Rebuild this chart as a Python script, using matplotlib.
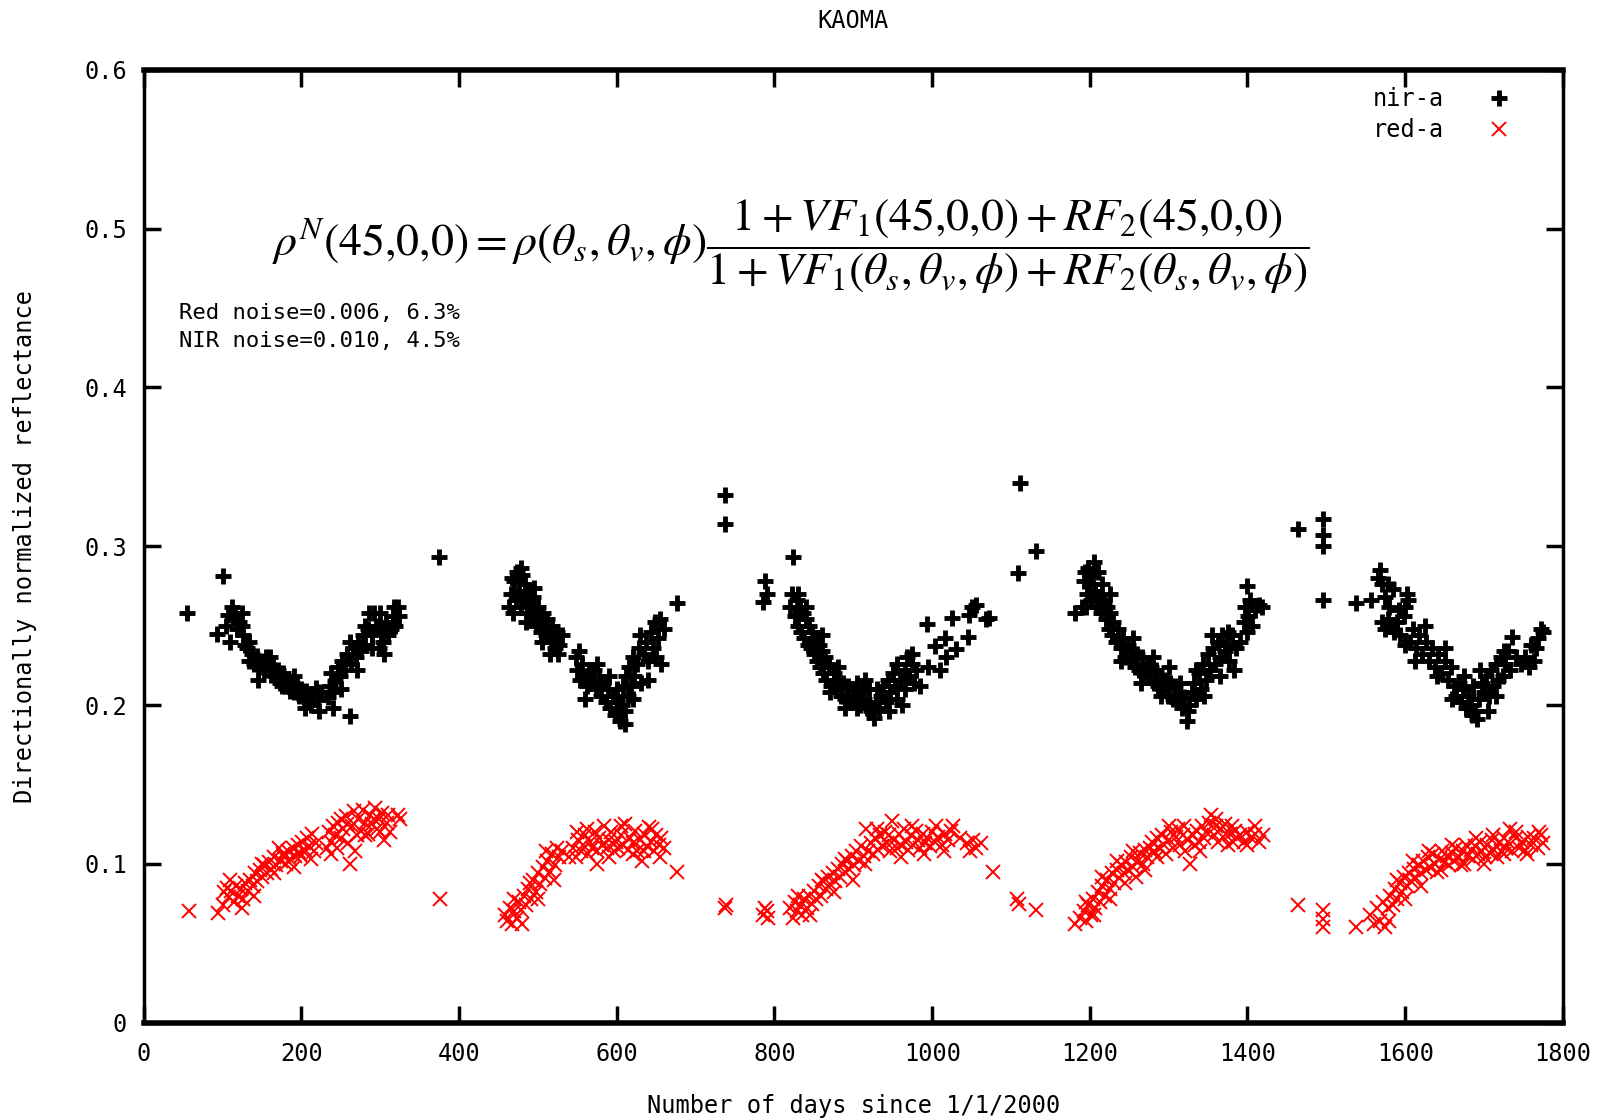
import numpy as np
import matplotlib
matplotlib.use("Agg")
import matplotlib.pyplot as plt

plt.rcParams['mathtext.fontset'] = 'stix'

# ---- data: (day since 1/1/2000, reflectance) ----
nir_2000 = [
    (55, .258), (93, .245), (100, .281), (104, .250), (107, .257), (110, .240), (113, .255),
    (116, .258), (118, .248), (121, .252), (124, .258), (126, .244), (128, .238), (131, .236),
    (134, .228), (137, .232), (140, .226), (143, .231), (146, .224), (149, .228), (152, .222),
    (155, .230), (158, .226), (161, .219), (164, .224), (167, .218), (170, .222), (173, .214),
    (176, .220), (179, .212), (182, .216), (185, .209), (188, .214), (191, .208), (194, .212),
    (197, .206), (200, .210), (203, .204), (206, .209), (209, .203), (212, .200), (215, .207),
    (218, .211), (221, .203), (224, .208), (234, .205), (236, .212), (238, .220), (240, .208),
    (243, .215), (246, .224), (249, .218), (252, .228), (255, .222), (258, .232), (261, .193),
    (263, .226), (266, .236), (269, .230), (272, .240), (275, .234), (278, .244), (281, .238),
    (284, .248), (286, .258), (289, .244), (292, .258), (295, .250), (298, .236), (301, .246),
    (304, .240), (307, .252), (310, .244), (313, .248), (316, .256), (319, .250), (322, .262),
    (324, .256), (375, .293),
    (112, .262), (125, .250), (133, .240), (145, .216), (160, .230), (175, .212), (190, .218),
    (205, .198), (222, .196), (240, .198), (250, .210), (262, .240), (270, .222), (280, .250),
    (290, .236), (300, .258), (318, .262), (305, .232),
]
red_2000 = [
    (58, .070), (94, .069), (100, .074), (102, .082), (105, .085), (108, .079), (111, .083),
    (114, .076), (117, .086), (120, .080), (123, .084), (126, .078), (129, .088), (132, .083),
    (135, .090), (138, .086), (141, .094), (144, .089), (147, .096), (150, .092), (153, .099),
    (156, .094), (159, .101), (162, .097), (165, .104), (168, .099), (171, .110), (174, .102),
    (177, .106), (180, .100), (183, .108), (186, .103), (189, .110), (192, .105), (195, .112),
    (198, .107), (201, .114), (204, .109), (207, .116), (210, .111), (213, .119), (216, .108),
    (219, .113), (233, .110), (235, .120), (237, .114), (240, .124), (242, .118), (245, .110),
    (247, .126), (250, .116), (253, .122), (256, .130), (259, .113), (262, .100), (264, .124),
    (267, .133), (270, .118), (272, .128), (275, .121), (278, .134), (281, .126), (284, .119),
    (287, .131), (290, .125), (293, .135), (296, .122), (299, .128), (302, .132), (305, .115),
    (308, .126), (312, .120), (322, .131), (325, .128), (376, .078),
    (110, .090), (125, .072), (140, .080), (150, .100), (165, .094), (178, .104), (190, .098),
    (200, .105), (212, .103), (238, .106), (250, .128), (258, .125), (268, .108), (280, .118),
    (292, .128), (300, .120), (310, .131),
]
nir_2001 = [
    (463, .262), (466, .270), (468, .258), (470, .278), (472, .266), (474, .284), (476, .272),
    (478, .262), (480, .282), (482, .268), (484, .276), (486, .258), (488, .270), (490, .264),
    (492, .254), (494, .268), (496, .260), (498, .250), (500, .262), (502, .256), (504, .246),
    (506, .258), (508, .250), (510, .244), (512, .254), (514, .246), (516, .240), (518, .250),
    (520, .242), (522, .236), (524, .246), (527, .238), (530, .244), (548, .230), (550, .222),
    (553, .216), (556, .226), (559, .218), (562, .212), (565, .220), (568, .214), (571, .222),
    (574, .210), (577, .216), (580, .206), (583, .214), (586, .202), (589, .210), (592, .198),
    (595, .206), (598, .194), (600, .202), (602, .196), (604, .190), (606, .200), (608, .212),
    (610, .196), (612, .218), (614, .206), (616, .224), (618, .212), (620, .230), (622, .218),
    (625, .226), (628, .236), (631, .214), (634, .232), (637, .240), (640, .228), (643, .246),
    (646, .236), (649, .252), (652, .242), (656, .226), (660, .248), (676, .264),
    (737, .332), (737, .314),
    (467, .280), (478, .286), (485, .252), (495, .274), (505, .240), (515, .232), (525, .232),
    (552, .234), (560, .204), (575, .226), (590, .218), (600, .210), (611, .188), (620, .204),
    (630, .244), (640, .216), (650, .230), (655, .254),
]
red_2001 = [
    (458, .068), (461, .064), (464, .072), (467, .062), (470, .070), (473, .066), (476, .076),
    (479, .071), (482, .080), (485, .074), (488, .084), (491, .078), (494, .090), (497, .082),
    (500, .094), (503, .087), (506, .098), (509, .091), (512, .102), (515, .095), (518, .106),
    (521, .099), (524, .110), (527, .104), (530, .108), (545, .110), (548, .104), (551, .115),
    (554, .108), (557, .112), (560, .118), (563, .106), (566, .114), (569, .110), (572, .120),
    (575, .108), (578, .116), (581, .112), (584, .124), (587, .110), (590, .115), (593, .120),
    (596, .108), (599, .114), (602, .110), (605, .118), (608, .112), (611, .125), (614, .109),
    (617, .116), (620, .113), (623, .121), (626, .108), (629, .115), (632, .102), (635, .119),
    (638, .111), (641, .123), (644, .114), (647, .108), (650, .118), (653, .112), (656, .116),
    (660, .110), (676, .095), (737, .072), (738, .074),
    (470, .078), (480, .062), (490, .088), (500, .078), (510, .108), (520, .090), (540, .104),
    (550, .120), (562, .122), (575, .100), (590, .104), (605, .124), (620, .106), (635, .108),
    (645, .122), (655, .104),
]
nir_2002 = [
    (786, .265), (788, .278), (790, .270), (820, .262), (822, .270), (824, .293), (826, .256),
    (828, .266), (830, .250), (832, .262), (834, .246), (836, .258), (838, .242), (840, .254),
    (842, .238), (844, .250), (846, .236), (848, .246), (850, .232), (852, .242), (854, .228),
    (856, .238), (858, .224), (860, .234), (862, .220), (864, .230), (866, .216), (869, .226),
    (872, .212), (875, .220), (878, .210), (881, .216), (884, .206), (887, .214), (890, .204),
    (893, .212), (896, .202), (899, .210), (902, .206), (905, .214), (908, .200), (911, .208),
    (914, .204), (917, .198), (920, .210), (923, .196), (926, .192), (929, .202), (932, .198),
    (935, .206), (938, .212), (941, .202), (944, .216), (947, .208), (950, .220), (953, .212),
    (956, .226), (959, .216), (962, .200), (965, .222), (968, .230), (971, .218), (974, .226),
    (977, .214), (980, .222), (993, .251), (1003, .237), (1016, .242), (1018, .230),
    (1025, .255), (1046, .243), (1047, .257), (1050, .262), (1056, .263), (1068, .254),
    (1072, .255), (1109, .283), (1112, .340), (1132, .297),
    (830, .270), (840, .262), (850, .240), (860, .244), (870, .208), (880, .224), (890, .198),
    (905, .198), (915, .216), (930, .210), (945, .196), (955, .204), (965, .210), (975, .232),
    (985, .212), (995, .224), (1010, .222), (1030, .235),
]
red_2002 = [
    (786, .068), (788, .072), (790, .070), (792, .066), (820, .072), (823, .066), (826, .076),
    (829, .070), (832, .074), (835, .068), (838, .078), (841, .072), (844, .080), (847, .075),
    (850, .083), (853, .078), (856, .086), (859, .080), (862, .089), (865, .084), (868, .092),
    (871, .087), (874, .094), (877, .089), (880, .097), (883, .092), (886, .100), (889, .095),
    (892, .102), (895, .097), (898, .105), (901, .099), (904, .108), (907, .102), (910, .111),
    (913, .105), (916, .122), (919, .108), (922, .113), (925, .106), (928, .116), (931, .109),
    (934, .118), (937, .111), (940, .120), (943, .113), (946, .108), (949, .127), (952, .115),
    (955, .110), (958, .119), (961, .112), (964, .122), (967, .114), (970, .109), (973, .118),
    (976, .112), (979, .121), (982, .115), (985, .110), (988, .119), (991, .113), (994, .116),
    (997, .111), (1000, .120), (1004, .114), (1008, .117), (1012, .112), (1016, .119),
    (1020, .115), (1024, .121), (1027, .124), (1044, .113), (1048, .108), (1052, .115),
    (1056, .110), (1062, .113), (1077, .095), (1108, .078), (1110, .075), (1132, .071),
    (830, .080), (845, .068), (860, .090), (875, .082), (890, .103), (900, .090), (915, .100),
    (930, .122), (945, .118), (960, .104), (975, .124), (990, .106), (1005, .124), (1015, .108),
    (1035, .116),
]
nir_2003 = [
    (1181, .258), (1190, .262), (1192, .278), (1194, .284), (1196, .270), (1198, .286),
    (1200, .276), (1202, .266), (1204, .282), (1206, .272), (1208, .262), (1210, .284),
    (1212, .268), (1214, .258), (1216, .276), (1218, .264), (1220, .254), (1222, .262),
    (1224, .248), (1226, .258), (1228, .244), (1230, .252), (1233, .240), (1236, .248),
    (1239, .236), (1242, .242), (1245, .230), (1248, .238), (1251, .228), (1254, .234),
    (1257, .224), (1260, .232), (1263, .222), (1266, .230), (1269, .220), (1272, .226),
    (1275, .218), (1278, .224), (1281, .214), (1284, .222), (1287, .212), (1290, .218),
    (1293, .210), (1296, .216), (1299, .206), (1302, .214), (1305, .204), (1308, .212),
    (1311, .202), (1314, .208), (1317, .198), (1320, .205), (1323, .190), (1326, .200),
    (1329, .208), (1332, .214), (1335, .204), (1338, .220), (1341, .210), (1344, .226),
    (1347, .216), (1350, .232), (1353, .222), (1356, .236), (1359, .226), (1362, .240),
    (1365, .230), (1368, .244), (1371, .234), (1374, .238), (1377, .228), (1380, .244),
    (1383, .222), (1386, .236), (1395, .252), (1397, .262), (1399, .275), (1401, .256),
    (1403, .266), (1406, .250), (1410, .260), (1414, .263), (1418, .262),
    (1464, .311), (1496, .317), (1496, .307), (1496, .300), (1496, .266),
    (1195, .262), (1205, .290), (1215, .266), (1225, .270), (1240, .228), (1255, .242),
    (1265, .214), (1280, .230), (1290, .206), (1300, .224), (1315, .214), (1325, .196),
    (1335, .222), (1345, .206), (1355, .244), (1365, .218), (1375, .246), (1390, .240),
    (1400, .246),
]
red_2003 = [
    (1181, .062), (1188, .066), (1192, .070), (1195, .064), (1198, .074), (1201, .068),
    (1204, .078), (1207, .072), (1210, .082), (1213, .076), (1216, .086), (1219, .080),
    (1222, .090), (1225, .084), (1228, .094), (1231, .088), (1234, .096), (1237, .091),
    (1240, .099), (1243, .094), (1246, .101), (1249, .096), (1252, .104), (1255, .098),
    (1258, .092), (1261, .102), (1264, .107), (1267, .100), (1270, .109), (1273, .104),
    (1276, .110), (1279, .114), (1282, .108), (1285, .116), (1288, .110), (1291, .118),
    (1294, .112), (1297, .106), (1300, .115), (1303, .120), (1306, .110), (1309, .117),
    (1312, .122), (1315, .112), (1318, .118), (1321, .108), (1324, .115), (1327, .100),
    (1330, .119), (1333, .112), (1336, .121), (1339, .114), (1342, .124), (1345, .116),
    (1348, .120), (1351, .126), (1354, .131), (1357, .118), (1360, .124), (1363, .114),
    (1366, .122), (1369, .117), (1372, .125), (1375, .112), (1378, .119), (1381, .114),
    (1384, .121), (1387, .116), (1390, .118), (1395, .114), (1400, .120), (1405, .116),
    (1410, .119), (1415, .114), (1420, .118),
    (1464, .074), (1496, .071), (1496, .065), (1496, .060),
    (1195, .076), (1205, .068), (1215, .092), (1225, .078), (1235, .102), (1245, .088),
    (1255, .108), (1270, .096), (1285, .104), (1300, .124), (1320, .124), (1340, .108),
    (1360, .128), (1380, .124), (1400, .112), (1410, .124),
]
nir_2004 = [
    (1538, .264), (1557, .266), (1566, .280), (1568, .285), (1570, .276), (1574, .268),
    (1578, .276), (1585, .273), (1570, .252), (1574, .248), (1578, .254), (1582, .250),
    (1586, .246), (1590, .252), (1594, .244), (1598, .256), (1600, .262), (1602, .270),
    (1604, .266), (1606, .240), (1610, .248), (1614, .236), (1618, .244), (1622, .232),
    (1626, .240), (1630, .228), (1634, .236), (1638, .224), (1642, .232), (1646, .220),
    (1650, .228), (1654, .216), (1658, .224), (1662, .212), (1665, .206), (1668, .214),
    (1671, .202), (1674, .210), (1677, .198), (1680, .206), (1683, .200), (1686, .212),
    (1689, .196), (1691, .191), (1694, .204), (1697, .214), (1700, .208), (1703, .218),
    (1706, .206), (1709, .222), (1712, .212), (1715, .226), (1718, .216), (1721, .230),
    (1724, .218), (1727, .226), (1730, .234), (1733, .222), (1736, .243), (1747, .226),
    (1752, .230), (1757, .224), (1763, .228), (1766, .236), (1769, .242), (1772, .248),
    (1775, .246),
    (1580, .262), (1592, .260), (1600, .238), (1612, .228), (1625, .250), (1640, .218),
    (1650, .236), (1660, .204), (1675, .218), (1685, .194), (1695, .222), (1705, .196),
    (1715, .206), (1725, .234), (1740, .230), (1760, .238),
]
red_2004 = [
    (1538, .060), (1556, .068), (1560, .062), (1564, .072), (1568, .064), (1572, .076),
    (1575, .060), (1578, .072), (1581, .080), (1584, .074), (1587, .084), (1590, .078),
    (1593, .088), (1596, .082), (1599, .092), (1602, .086), (1605, .094), (1608, .089),
    (1611, .097), (1614, .091), (1617, .099), (1620, .094), (1623, .102), (1626, .096),
    (1629, .104), (1632, .098), (1635, .106), (1638, .100), (1641, .095), (1644, .103),
    (1647, .108), (1650, .101), (1653, .105), (1656, .099), (1659, .107), (1662, .102),
    (1665, .110), (1668, .104), (1671, .099), (1674, .108), (1677, .112), (1680, .105),
    (1683, .109), (1686, .103), (1689, .111), (1692, .106), (1695, .114), (1698, .108),
    (1701, .104), (1704, .112), (1707, .107), (1710, .115), (1713, .109), (1716, .104),
    (1719, .113), (1722, .108), (1725, .116), (1728, .110), (1731, .114), (1733, .122),
    (1736, .108), (1740, .116), (1744, .110), (1748, .114), (1752, .109), (1756, .117),
    (1760, .112), (1764, .116), (1768, .110), (1772, .118), (1775, .113),
    (1580, .064), (1590, .090), (1600, .078), (1610, .102), (1620, .086), (1630, .108),
    (1645, .096), (1660, .112), (1675, .100), (1690, .116), (1700, .100), (1712, .118),
    (1725, .106), (1740, .120), (1755, .106), (1770, .120),
]

x_ticks = [0, 200, 400, 600, 800, 1000, 1200, 1400, 1600, 1800]
y_ticks = [0, 0.1, 0.2, 0.3, 0.4, 0.5, 0.6]
y_tick_labels = ["0", "0.1", "0.2", "0.3", "0.4", "0.5", "0.6"]

nir = np.array(nir_2000 + nir_2001 + nir_2002 + nir_2003 + nir_2004)
red = np.array(red_2000 + red_2001 + red_2002 + red_2003 + red_2004)

mono = "DejaVu Sans Mono"

fig = plt.figure(figsize=(16.1, 11.19), dpi=100)
ax = fig.add_axes([0.0893, 0.0861, 0.8814, 0.8515])

ax.plot(nir[:, 0], nir[:, 1], ls="none", marker="+", ms=11, mew=3.5, color="black", label="nir-a")
ax.plot(red[:, 0], red[:, 1], ls="none", marker="x", ms=10, mew=1.4, color="red", label="red-a")

ax.set_xlim(0, 1800)
ax.set_ylim(0, 0.6)
ax.set_xticks(x_ticks)
ax.set_xticklabels([str(t) for t in x_ticks], family=mono, fontsize=17)
ax.set_yticks(y_ticks)
ax.set_yticklabels(y_tick_labels, family=mono, fontsize=17)
ax.tick_params(direction="in", length=12, width=2.5, top=True, right=True, pad=14)
ax.tick_params(axis="y", pad=12)
for side in ("top", "bottom"):
    ax.spines[side].set_linewidth(4)
for side in ("left", "right"):
    ax.spines[side].set_linewidth(2.5)

ax.set_title("KAOMA", family=mono, fontsize=17, pad=30)
ax.set_xlabel("Number of days since 1/1/2000", family=mono, fontsize=17, labelpad=20)
ax.set_ylabel("Directionally normalized reflectance", family=mono, fontsize=17, labelpad=34)

leg = ax.legend(loc="upper right", frameon=False, prop={"family": mono, "size": 17},
                markerfirst=False, handletextpad=1.35, borderaxespad=0, borderpad=0,
                labelspacing=0.3, bbox_to_anchor=(0.972, 0.982))

ax.text(0.025, 0.755, "Red noise=0.006, 6.3%\nNIR noise=0.010, 4.5%", transform=ax.transAxes,
        family=mono, fontsize=16, va="top", linespacing=1.5)

formula = (r"$\rho^{N}\left(45{,}0{,}0\right)=\rho\left(\theta_s,\theta_v,\phi\right)"
           r"\dfrac{1+VF_1\left(45{,}0{,}0\right)+RF_2\left(45{,}0{,}0\right)}"
           r"{1+VF_1\left(\theta_s,\theta_v,\phi\right)+RF_2\left(\theta_s,\theta_v,\phi\right)}$")
ax.text(0.456, 0.815, formula, transform=ax.transAxes, fontsize=33, ha="center", va="center")

fig.savefig("out.png", dpi=100)
